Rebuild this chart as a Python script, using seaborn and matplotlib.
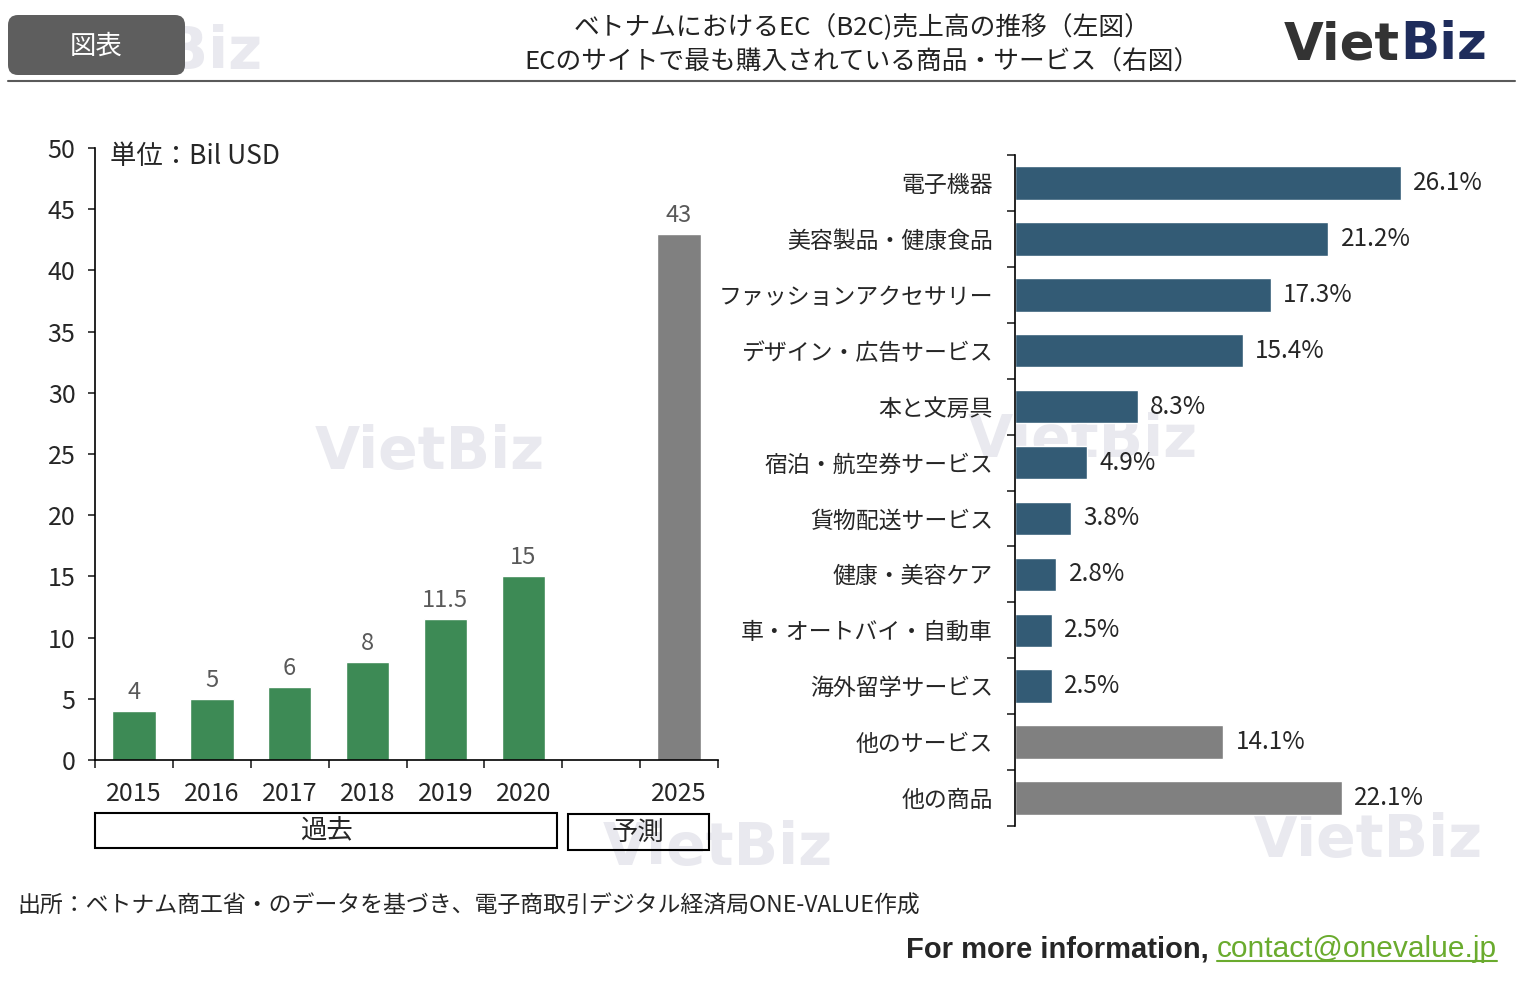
import numpy as np
import pandas as pd
import matplotlib
matplotlib.use("Agg")
import matplotlib.pyplot as plt
import seaborn as sns
from matplotlib.patches import FancyBboxPatch, Rectangle
from matplotlib.lines import Line2D

# -----------------------------
# Data
# -----------------------------
years = ["2015", "2016", "2017", "2018", "2019", "2020", "2025"]
sales = [4, 5, 6, 8, 11.5, 15, 43]
year_order = ["2015", "2016", "2017", "2018", "2019", "2020", " ", "2025"]

categories = [
    "電子機器", "美容製品・健康食品", "ファッションアクセサリー", "デザイン・広告サービス",
    "本と文房具", "宿泊・航空券サービス", "貨物配送サービス", "健康・美容ケア",
    "車・オートバイ・自動車", "海外留学サービス", "他のサービス", "他の商品",
]
shares = [26.1, 21.2, 17.3, 15.4, 8.3, 4.9, 3.8, 2.8, 2.5, 2.5, 14.1, 22.1]

GREEN = "#3d8a55"
GRAY = "#808080"
NAVY = "#335b75"
MARK = "#e9e9ef"

sns.set_style("ticks")
plt.rcParams["font.family"] = ["Noto Sans CJK JP", "DejaVu Sans"]

W, H = 1536, 984
fig = plt.figure(figsize=(W / 100, H / 100), dpi=100)


def fx(px):
    return px / W


def fy(py):
    return 1 - py / H


# -----------------------------
# Watermarks (behind everything)
# -----------------------------
for cx, cy in [(148, 52), (430, 452), (1083, 440), (718, 848), (1368, 840)]:
    fig.text(fx(cx), fy(cy), "VietBiz", family="DejaVu Sans", fontweight="bold",
             fontsize=42, color=MARK, ha="center", va="center", zorder=0)

# -----------------------------
# Left chart: EC sales
# -----------------------------
sales_df = pd.DataFrame({"Year": years, "Sales": sales})
ax1 = fig.add_axes([fx(95), fy(760), fx(718) - fx(95), fy(148) - fy(760)])
ax1.set_zorder(2)
ax1.patch.set_visible(False)
pal1 = {y: (GRAY if y == "2025" else GREEN) for y in years}
sns.barplot(data=sales_df, x="Year", y="Sales", hue="Year", palette=pal1,
            order=year_order, hue_order=years, width=0.56, saturation=1,
            legend=False, ax=ax1)
for cont in ax1.containers:
    ax1.bar_label(cont, fmt="%g", padding=5, color="#595959", fontsize=17)

ax1.set_xlim(-0.5, 7.5)
ax1.set_ylim(0, 50)
ax1.set_yticks(range(0, 51, 5))
ax1.set_xticks(np.arange(-0.5, 8, 1), minor=True)
ax1.tick_params(axis="x", which="major", length=0, labelsize=18, pad=15)
ax1.tick_params(axis="x", which="minor", length=6, width=1.2, direction="out")
ax1.tick_params(axis="y", length=5, width=1.2, labelsize=18, pad=9)
ax1.set_xlabel("")
ax1.set_ylabel("")
for s in ["top", "right"]:
    ax1.spines[s].set_visible(False)
for s in ["left", "bottom"]:
    ax1.spines[s].set_color("black")
    ax1.spines[s].set_linewidth(1.2)

fig.text(fx(110), fy(156), "単位：Bil USD", fontsize=19, va="center", ha="left")

# period boxes below the axis
fig.add_artist(Rectangle((fx(95), fy(848)), fx(557) - fx(95), fy(813) - fy(848),
                         transform=fig.transFigure, fill=False, ec="black", lw=1.5))
fig.add_artist(Rectangle((fx(568), fy(850)), fx(709) - fx(568), fy(814) - fy(850),
                         transform=fig.transFigure, fill=False, ec="black", lw=1.5))
fig.text(fx(326), fy(831), "過去", fontsize=19, ha="center", va="center")
fig.text(fx(638), fy(832), "予測", fontsize=19, ha="center", va="center")

# -----------------------------
# Right chart: purchased goods / services
# -----------------------------
share_df = pd.DataFrame({"Category": categories, "Share": shares})
ax2 = fig.add_axes([fx(1015), fy(826), fx(1500) - fx(1015), fy(155) - fy(826)])
ax2.set_zorder(2)
ax2.patch.set_visible(False)
pal2 = {c: (GRAY if c.startswith("他の") else NAVY) for c in categories}
sns.barplot(data=share_df, x="Share", y="Category", hue="Category", palette=pal2,
            orient="h", width=0.6, saturation=1, legend=False, ax=ax2)
for cont in ax2.containers:
    ax2.bar_label(cont, fmt="%.1f%%", padding=9, fontsize=17.5)

ax2.set_xlim(0, 32.8)
ax2.set_ylim(11.5, -0.5)
ax2.set_yticks(np.arange(-0.5, 12, 1), minor=True)
ax2.tick_params(axis="y", which="major", length=0, labelsize=16.5, pad=16)
ax2.tick_params(axis="y", which="minor", length=6, width=1.2, direction="out")
ax2.xaxis.set_visible(False)
ax2.set_ylabel("")
for s in ["top", "right", "bottom"]:
    ax2.spines[s].set_visible(False)
ax2.spines["left"].set_color("black")
ax2.spines["left"].set_linewidth(1.2)

# -----------------------------
# Header
# -----------------------------
fig.add_artist(FancyBboxPatch((0.08, (H - 75) / 100), 1.77, 0.60,
                              boxstyle="round,pad=0,rounding_size=0.1",
                              transform=fig.dpi_scale_trans, fc="#5e5e5e",
                              ec="none", zorder=1))
fig.text(fx(96), fy(46), "図表", fontsize=19, color="white", ha="center",
         va="center", zorder=3)
fig.add_artist(Line2D([fx(8), fx(1515)], [fy(81), fy(81)], color="#5a5a5a", lw=1.5))

fig.text(fx(862), fy(28), "ベトナムにおけるEC（B2C)売上高の推移（左図）",
         fontsize=18.5, ha="center", va="center", color="#222222")
fig.text(fx(862), fy(63), "ECのサイトで最も購入されている商品・サービス（右図）",
         fontsize=18.5, ha="center", va="center", color="#222222")

renderer = fig.canvas.get_renderer()
biz = fig.text(fx(1487), fy(45), "Biz", family="DejaVu Sans", fontweight="bold",
               fontsize=37, color="#1f2d5c", ha="right", va="center")
bb = biz.get_window_extent(renderer).transformed(fig.transFigure.inverted())
fig.text(bb.x0, fy(45), "Viet", family="DejaVu Sans", fontweight="bold",
         fontsize=37, color="#333333", ha="right", va="center")

# -----------------------------
# Footer
# -----------------------------
fig.text(fx(17), fy(906),
         "出所：ベトナム商工省・のデータを基づき、電子商取引デジタル経済局ONE-VALUE作成",
         fontsize=16.5, ha="left", va="center")

email = fig.text(fx(1497), fy(949), "contact@onevalue.jp", family="Liberation Sans",
                 fontsize=21.5, color="#6aab2e", ha="right", va="center")
eb = email.get_window_extent(renderer).transformed(fig.transFigure.inverted())
fig.add_artist(Line2D([eb.x0, eb.x1], [eb.y0 + 0.002, eb.y0 + 0.002],
                      color="#6aab2e", lw=1.5))
fig.text(eb.x0, fy(949), "For more information, ", family="Liberation Sans",
         fontweight="bold", fontsize=21, ha="right", va="center")

fig.savefig("out.png", dpi=100)
